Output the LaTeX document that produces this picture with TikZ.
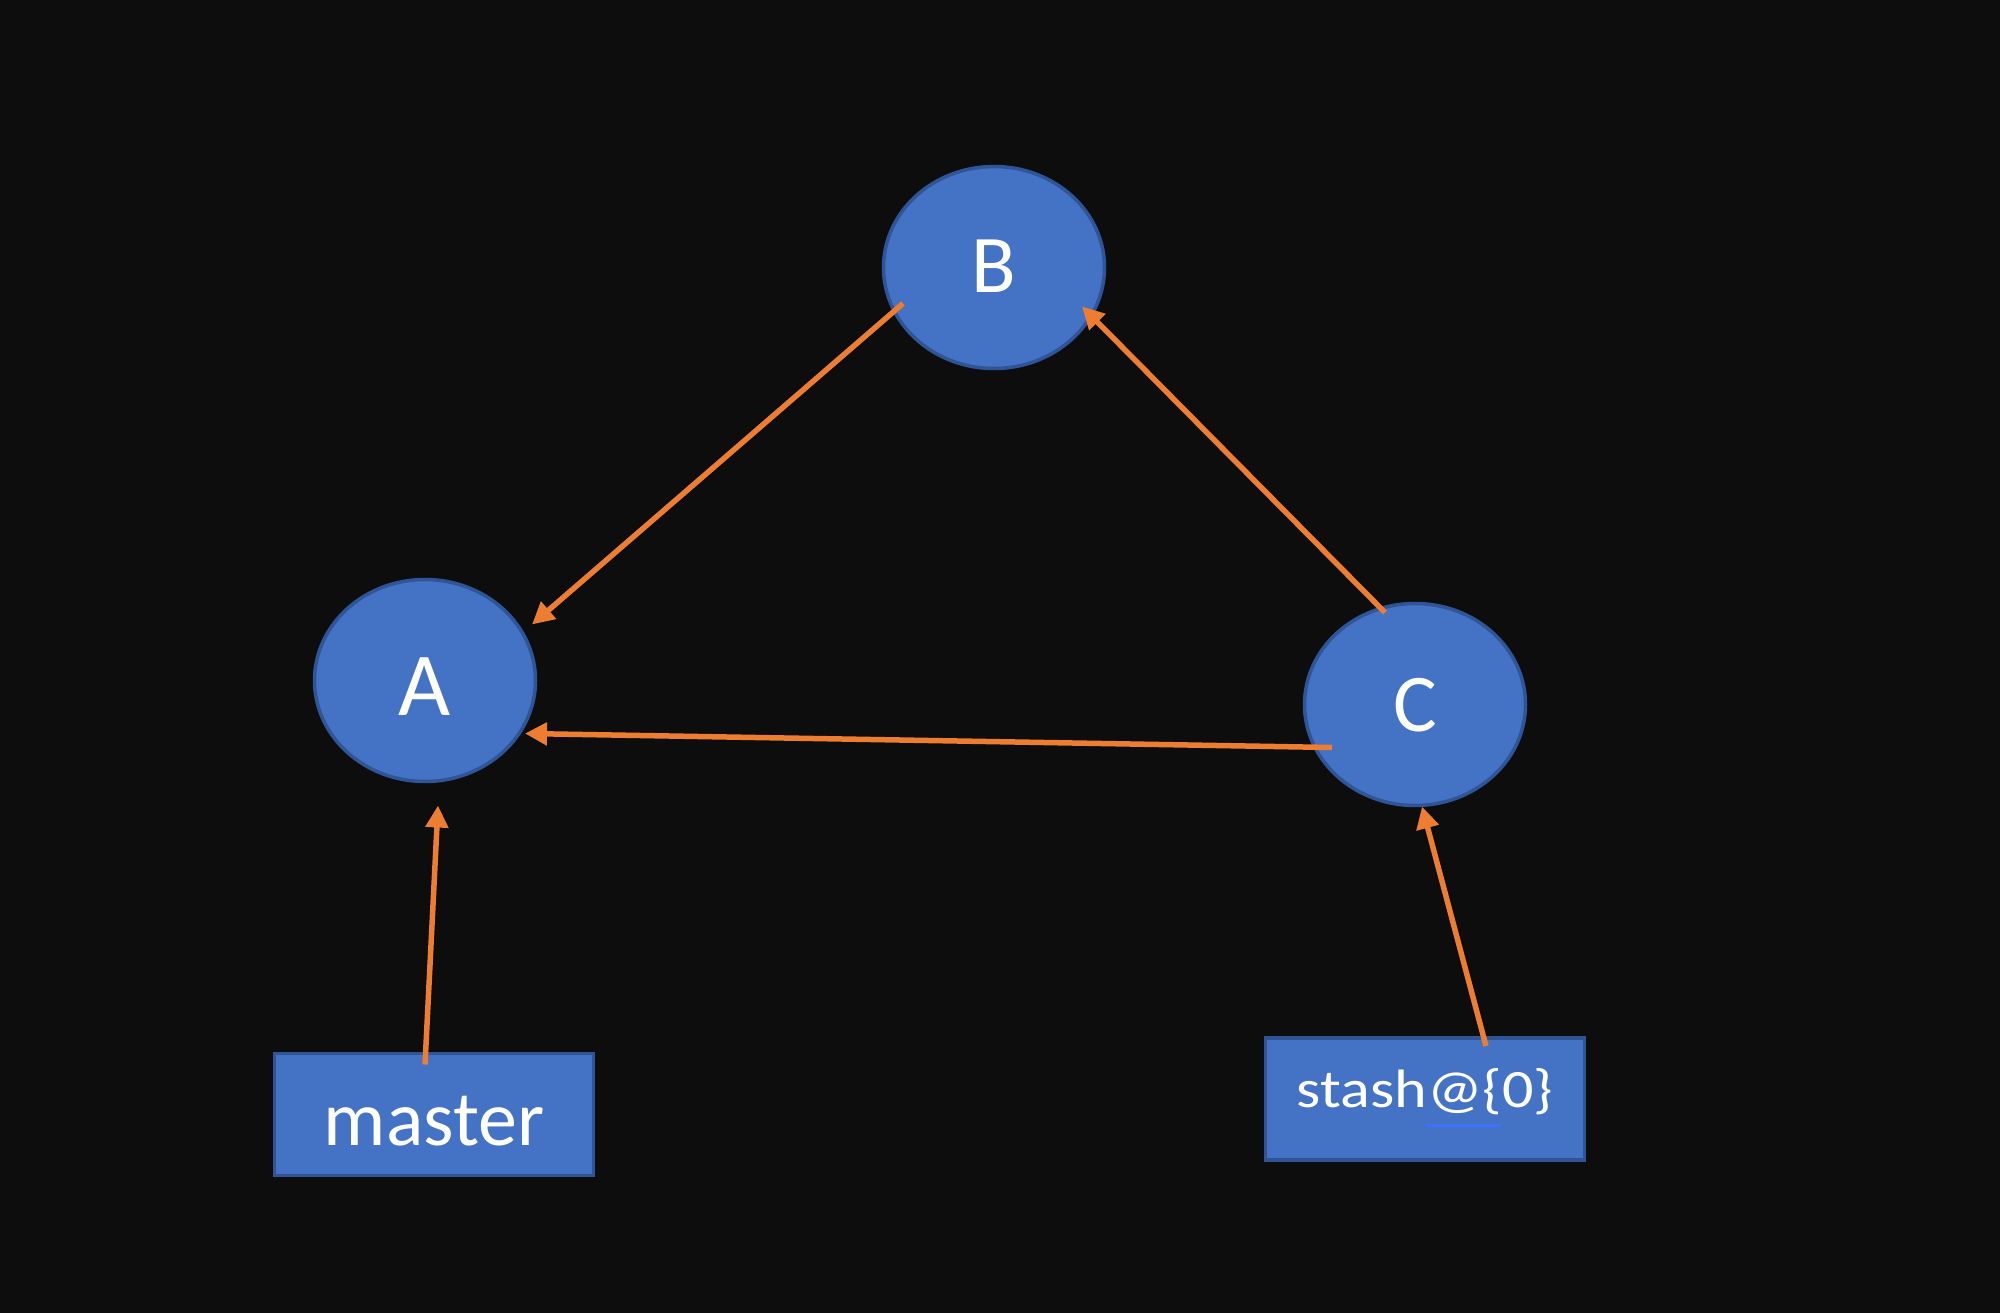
\documentclass[tikz,border=0pt]{standalone}
\usepackage{fontspec}
\setmainfont{Carlito}
\usetikzlibrary{shapes.geometric,arrows.meta,calc}
\definecolor{bgc}{HTML}{0D0D0D}
\definecolor{nodefill}{HTML}{4472C4}
\definecolor{nodeline}{HTML}{2F5597}
\definecolor{arrowc}{HTML}{ED7D31}
\definecolor{ulc}{HTML}{3F70FF}
\tikzset{
  commit/.style={ellipse, draw=nodeline, line width=3.5pt, fill=nodefill, text=white,
    minimum width=221pt, minimum height=202pt, inner sep=0pt},
  refbox/.style={rectangle, draw=nodeline, line width=3.5pt, fill=nodefill, text=white,
    minimum width=319pt, minimum height=122pt, inner sep=0pt},
  arr/.style={draw=arrowc, line width=5.5pt, -{Triangle[length=22pt,width=22pt]}}
}
\begin{document}
\begin{tikzpicture}[x=1pt,y=-1pt]
\fill[bgc] (0,0) rectangle (2000,1313);
\useasboundingbox (0,0) rectangle (2000,1313);
\node[commit, text height=69pt, text depth=0pt, font=\fontsize{90}{90}\selectfont] (A) at (425,680.5) {A};
\node[commit, text height=51pt, text depth=0pt, font=\fontsize{82}{82}\selectfont] (B) at (994,267.5) {B};
\node[commit, text height=53pt, text depth=0pt, font=\fontsize{82}{82}\selectfont] (C) at (1415,704.5) {C};
\node[refbox, text height=61pt, text depth=0pt, font=\fontsize{78}{78}\selectfont] (master) at (434,1114.5) {master};
\node[refbox, text height=40pt, text depth=24pt, font=\fontsize{54}{54}\selectfont] (stash) at (1425,1099) {\scalebox{1.15}[1]{stash@\{0\}}};
\draw[ulc, line width=3pt] ($(stash)+(1,26)$) coordinate (ul1) -- ($(stash)+(76,26)$) coordinate (ul2);
\draw[arr] ($(B)+(-91,36)$) -- ($(A)+(107,-56)$);
\draw[arr] ($(C)+(-30,-92)$) -- ($(B)+(88,39)$);
\draw[arr] ($(C)+(-83,43)$) -- ($(A)+(100,53)$);
\draw[arr] ($(master)+(-9,-50)$) -- ($(A)+(13,125)$);
\draw[arr] ($(stash)+(61,-53)$) -- ($(C)+(7,102)$);
\end{tikzpicture}
\end{document}
